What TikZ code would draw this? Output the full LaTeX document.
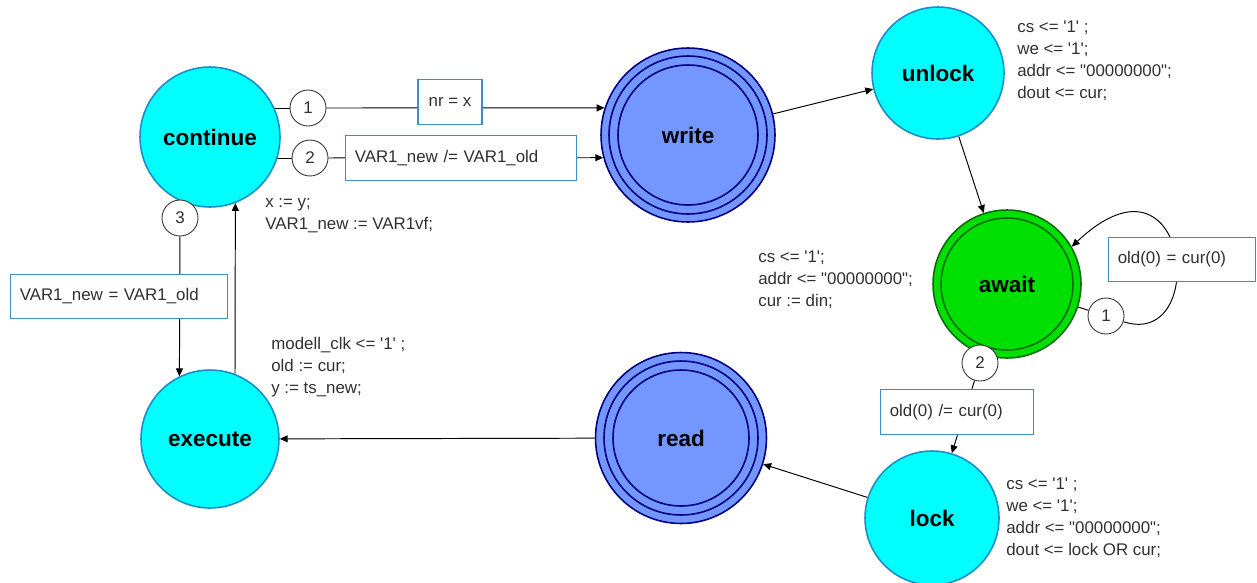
\documentclass[tikz,border=0pt]{standalone}
\usepackage{fontspec}
\setmainfont{Liberation Sans}[Ligatures=TeXOff]
\usetikzlibrary{arrows.meta,backgrounds}
\definecolor{cy}{HTML}{00FFFF}
\definecolor{cyb}{HTML}{1B8DC9}
\definecolor{bl}{HTML}{7397FF}
\definecolor{nv}{HTML}{000080}
\definecolor{gr}{HTML}{00E000}
\definecolor{dg}{HTML}{0B6B0B}
\definecolor{gb}{HTML}{3C8DC8}
\definecolor{tx}{HTML}{303030}
\newcommand\actfont{\fontsize{9.6}{12.5}\selectfont}
\newcommand\stfont{\fontsize{12.8}{15}\selectfont\bfseries}
\tikzset{
  st/.style={circle,draw=cyb,line width=0.9pt,fill=cy,font=\stfont,inner sep=0pt},
  bst/.style={st,draw=nv,fill=bl},
  gst/.style={st,draw=dg,fill=gr},
  num/.style={circle,draw=black!80,line width=0.5pt,fill=white,minimum size=0.72cm,inner sep=0pt,font=\actfont,text=tx},
  grd/.style={draw=gb,line width=0.6pt,fill=white,minimum height=0.89cm,inner xsep=5.5pt,align=left,font=\actfont,text=tx},
  act/.style={anchor=north west,align=left,inner sep=0pt,font=\actfont,text=tx},
  ln/.style={draw=black,line width=0.55pt},
  ar/.style={ln,-{Triangle[length=4.5pt,width=4pt]}},
}
\begin{document}
\begin{tikzpicture}[x=0.02cm,y=-0.02cm]
  \useasboundingbox (0,0) rectangle (1257,582);
  % states
  \node[st,minimum size=2.8cm] (cont) at (210,137) {continue};
  \node[bst,minimum size=3.48cm] (write) at (688,135) {write};
  \draw[nv,line width=0.9pt] (write.center) circle[radius=1.58cm] circle[radius=1.4cm];
  \node[st,minimum size=2.64cm] (unlock) at (938,73) {unlock};
  \node[gst,minimum size=2.96cm] (await) at (1007,284) {await};
  \draw[dg,line width=0.9pt] (await.center) circle[radius=1.32cm];
  \node[st,minimum size=2.68cm] (lock) at (932,518) {lock};
  \node[bst,minimum size=3.42cm] (read) at (681,438) {read};
  \draw[nv,line width=0.9pt] (read.center) circle[radius=1.54cm] circle[radius=1.36cm];
  \node[st,minimum size=2.76cm] (exec) at (210,439) {execute};
  % priorities
  \node[num] (n1) at (308,108) {1};
  \node[num] (n2) at (310,158) {2};
  \node[num] (n3) at (180,218) {3};
  \node[num] (n4) at (1106,316) {1};
  \node[num] (n5) at (980,363) {2};
  % guards
  \node[grd,minimum width=1.28cm] (g1) at (450,102) {nr = x};
  \node[grd,text width=4.25cm] (g2) at (461,158) {VAR1\_new /= VAR1\_old};
  \node[grd,text width=3.97cm] (g3) at (119,296.5) {VAR1\_new = VAR1\_old};
  \node[grd,text width=2.57cm] (g4) at (1182,259.5) {old(0) = cur(0)};
  \node[grd,text width=2.69cm] (g5) at (957,412) {old(0) /= cur(0)};
  % actions
  \node[act] (aCont) at (265,192) {\strut x := y;\\VAR1\_new := VAR1vf;};
  \node[act] (aUnlock) at (1017,17) {\strut cs <= '1' ;\\we <= '1';\\addr <= "00000000";\\dout <= cur;};
  \node[act] (aAwait) at (758,247) {\strut cs <= '1';\\addr <= "00000000";\\cur := din;};
  \node[act] (aExec) at (271,334) {\strut modell\_clk <= '1' ;\\old := cur;\\y := ts\_new;};
  \node[act] (aLock) at (1006,474) {\strut cs <= '1' ;\\we <= '1';\\addr <= "00000000";\\dout <= lock OR cur;};
  % transitions
  \begin{scope}[on background layer]
    \draw[ln] (n1 -| cont) -- (n1);
    \draw[ar] (n1) -- (write.162);
    \draw[ln] (n2 -| cont) -- (n2);
    \draw[ar] (n2) -- (write.195);
    \draw[ln] (n3 |- cont) -- (n3);
    \draw[ar] (n3) -- (exec.116);
    \draw[ar] (exec.69) -- (cont.291);
    \draw[ar] (write) -- (unlock);
    \draw[ar] (unlock) -- (await);
    \draw[ln] (await) -- (n4);
    \draw[ar] (n4) .. controls (1210,350) and (1190,135) .. (await.30);
    \draw[ln] (await) -- (n5);
    \draw[ar] (n5) -- (lock.73);
    \draw[ar] (lock) -- (read);
    \draw[ar] (read) -- (exec);
  \end{scope}
\end{tikzpicture}
\end{document}
